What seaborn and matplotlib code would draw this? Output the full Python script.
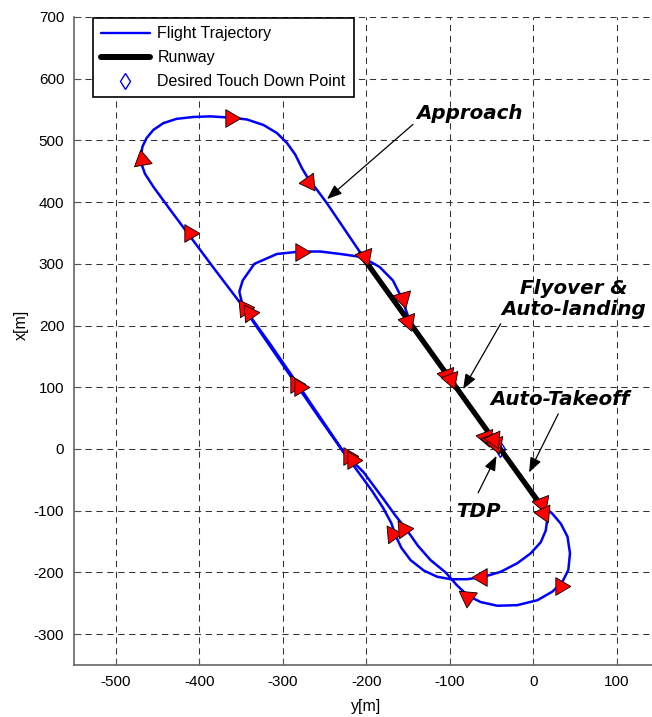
import numpy as np
import pandas as pd
import matplotlib
matplotlib.use("Agg")
import matplotlib.pyplot as plt
from matplotlib.lines import Line2D
import seaborn as sns

# ---------------- data ----------------
# horizontal axis = y[m] (east), vertical axis = x[m] (north)
traj_east = [-40, -20, 0, 10, 15, 17, 15, 9, -3, -19, -39, -59, -79, -99, -115, -131, -147, -158, -165, -170,
             -180, -193, -207, -219, -230, -256, -283, -316, -350, -382, -414, -435, -455, -465, -469,
             -470, -468, -463, -455, -443, -427, -407, -387, -363, -343, -323, -307, -295, -285, -277,
             -269, -259, -247, -231, -207, -150, -100, -40, 12,
             23, 33, 41, 44, 42, 35, 23, 5, -19, -43, -63, -79, -92, -105, -123, -138, -151, -165, -180,
             -203, -227, -253, -281, -314, -348,
             -352, -348, -334, -307, -279, -255, -231, -205, -184, -168, -158, -148, -120, -90, -60, -40]
traj_north = [0, -38, -75, -93, -102, -112, -132, -151, -169, -185, -199, -207, -211, -211, -207, -197, -180, -160, -140, -120,
              -95, -68, -42, -20, 0, 50, 103, 168, 235, 292, 350, 388, 425, 446, 461,
              474, 490, 504, 517, 528, 535, 538, 539, 537, 534, 525, 512, 496, 477, 455,
              437, 420, 398, 366, 318, 212, 114, 2, -92,
              -105, -121, -142, -169, -196, -215, -231, -245, -253, -254, -248, -237, -220, -200, -180, -157, -132, -108, -80,
              -38, -5, 47, 103, 168, 232,
              255, 273, 300, 316, 320, 320, 316, 311, 295, 273, 246, 208, 155, 98, 40, 2]

runway_east = [-207, 10]
runway_north = [316, -93]

tdp_east = [-40]
tdp_north = [0]

# direction markers (position and pointing direction in degrees)
arrow_east = [-363, -469, -268, -412, -279, -347, -341, -201, -156, -150, -285, -280, -222, -217,
              -169, -156, -61, -79, 32, 11, 13, -57, -51, -45, -47, -103, -98]
arrow_north = [537, 468, 433, 350, 319, 228, 220, 313, 245, 207, 106, 100, -12, -18,
               -137, -129, -208, -240, -222, -88, -104, 20, 14, 8, 16, 120, 114]
arrow_dir = [0, 100, 185, 0, 0, 5, 5, 170, 165, 170, 0, 0, 0, 0,
             5, 5, 180, 25, 0, 170, 175, 170, 170, 170, 175, 170, 170]

xticks = [-500, -400, -300, -200, -100, 0, 100]
yticks = [-300, -200, -100, 0, 100, 200, 300, 400, 500, 600, 700]

notes = ["Approach", "Flyover &\nAuto-landing", "Auto-Takeoff", "TDP"]
note_east = [-76, 49, 32, -66]
note_north = [543, 243, 81, -102]
tail_east = [-144, -39, 30, -66]
tail_north = [526, 203, 57, -71]
tip_east = [-247, -84, -5, -44]
tip_north = [405, 97, -38, -11]

legend_labels = ["Flight Trajectory", "Runway", "Desired Touch Down Point"]

# ---------------- plotting ----------------
sns.set_theme(style="white")
plt.rcParams["font.family"] = ["Liberation Sans", "DejaVu Sans"]
plt.rcParams["axes.unicode_minus"] = False
plt.rcParams["text.color"] = "black"
plt.rcParams["axes.labelcolor"] = "black"
plt.rcParams["xtick.color"] = "black"
plt.rcParams["ytick.color"] = "black"

fig = plt.figure(figsize=(6.52, 7.17), dpi=100)
ax = fig.add_axes([74 / 652, (717 - 665) / 717, 584.5 / 652, 648 / 717])

traj = pd.DataFrame({"east": traj_east, "north": traj_north})
rwy = pd.DataFrame({"east": runway_east, "north": runway_north})

ax.plot(tdp_east, tdp_north, linestyle="none", marker="d", mfc="none", mec="#0000FF", ms=8, zorder=2)
sns.lineplot(data=traj, x="east", y="north", sort=False, estimator=None, color="#0000FF",
             linewidth=1.8, ax=ax, zorder=3)
sns.lineplot(data=rwy, x="east", y="north", sort=False, estimator=None, color="black",
             linewidth=3.8, ax=ax, zorder=4)

base = np.array([[1.0, 0.0], [-0.45, 0.85], [-0.45, -0.85], [1.0, 0.0]])
for e, n, d in zip(arrow_east, arrow_north, arrow_dir):
    a = np.deg2rad(d)
    rot = np.array([[np.cos(a), -np.sin(a)], [np.sin(a), np.cos(a)]])
    verts = base @ rot.T
    ax.plot([e], [n], linestyle="none", marker=verts, ms=15, mfc="#FF0000", mec="black",
            mew=0.6, zorder=5)

for t, tx, ty, ax_, ay_, bx, by in zip(notes, note_east, note_north, tail_east, tail_north, tip_east, tip_north):
    ax.text(tx, ty, t, ha="center", va="center", fontsize=14.3, fontweight="bold", fontstyle="italic",
            family="DejaVu Sans", linespacing=1.15, color="black", zorder=6)
    ax.annotate("", xy=(bx, by), xytext=(ax_, ay_),
                arrowprops=dict(arrowstyle="-|>,head_length=0.9,head_width=0.35", color="black",
                                lw=0.9, shrinkA=0, shrinkB=0, mutation_scale=10), zorder=6)

ax.set_xlim(-550, 150)
ax.set_ylim(-350, 700)
ax.set_xticks(xticks)
ax.set_yticks(yticks)
ax.grid(True, color="#333333", linestyle=(0, (6, 4.5)), linewidth=0.75)
ax.set_axisbelow(True)
for s in ["top", "right"]:
    ax.spines[s].set_visible(False)
for s in ["left", "bottom"]:
    ax.spines[s].set_color("#666666")
    ax.spines[s].set_linewidth(1.2)
ax.tick_params(direction="in", length=5, width=0.8, color="#555555", labelsize=11, pad=7,
               labelcolor="black", left=True, bottom=True)

ax.set_xlabel("y[m]", fontsize=11.5, color="black")
ax.set_ylabel("x[m]", fontsize=11.5, color="black")
ax.xaxis.set_label_coords(0.5, -(707 - 665) / 648)
ax.xaxis.label.set_va("center")
ax.yaxis.set_label_coords(-(74 - 21) / 584.5, (665 - 325) / 648)
ax.yaxis.label.set_va("center")

handles = [Line2D([], [], color="#0000FF", lw=1.7),
           Line2D([], [], color="black", lw=4.3),
           Line2D([], [], linestyle="none", marker="d", mfc="none", mec="#0000FF", ms=8)]
leg = ax.legend(handles, legend_labels, loc="upper left", bbox_to_anchor=(0.032, 0.998),
                frameon=True, fancybox=False, edgecolor="black", framealpha=1,
                borderaxespad=0, handlelength=3.1, fontsize=11.5, borderpad=0.5,
                labelspacing=0.57, handletextpad=0.45)
leg.get_frame().set_linewidth(1.2)
for txt in leg.get_texts():
    txt.set_color("black")
leg.set_zorder(10)

fig.savefig("out.png", dpi=100)
